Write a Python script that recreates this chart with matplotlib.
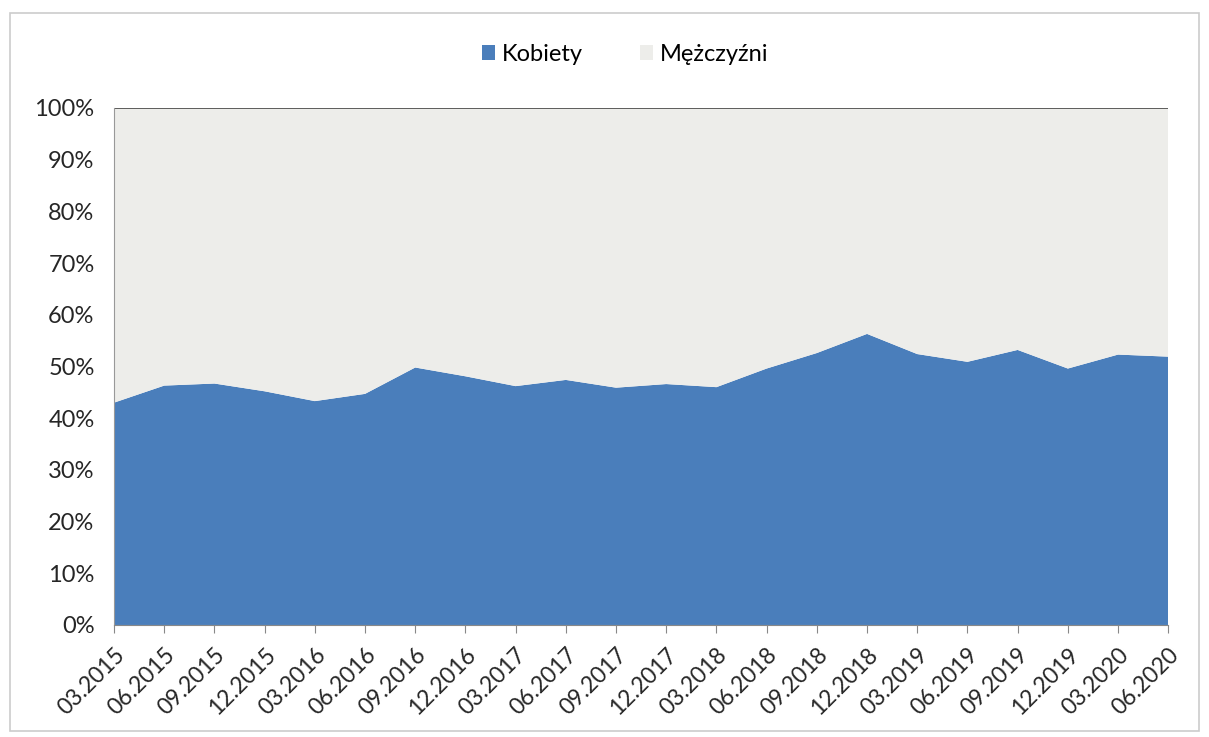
import matplotlib
matplotlib.use("Agg")
import matplotlib.pyplot as plt
from matplotlib.patches import Rectangle
from matplotlib.ticker import PercentFormatter

quarters = ['03.2015', '06.2015', '09.2015', '12.2015', '03.2016', '06.2016',
            '09.2016', '12.2016', '03.2017', '06.2017', '09.2017', '12.2017',
            '03.2018', '06.2018', '09.2018', '12.2018', '03.2019', '06.2019',
            '09.2019', '12.2019', '03.2020', '06.2020']
kobiety = [43.0, 46.3, 46.7, 45.2, 43.3, 44.7, 49.8, 48.1, 46.2, 47.4, 45.9,
           46.6, 46.0, 49.6, 52.6, 56.3, 52.4, 50.9, 53.2, 49.6, 52.3, 51.9]
mezczyzni = [100 - k for k in kobiety]

blue = '#4a7ebb'
grey = '#ededea'

plt.rcParams['font.family'] = ['Lato', 'DejaVu Sans']

fig = plt.figure(figsize=(12.09, 7.37), dpi=100)
ax = fig.add_axes([0.0943, 0.152, 0.872, 0.7015])

x = list(range(len(quarters)))
ax.stackplot(x, kobiety, mezczyzni, colors=[blue, grey],
             labels=['Kobiety', 'Mężczyźni'])

ax.set_xlim(0, len(quarters) - 1)
ax.set_ylim(0, 100)
ax.set_yticks(range(0, 101, 10))
ax.yaxis.set_major_formatter(PercentFormatter(decimals=0))
ax.set_xticks(x)
ax.set_xticklabels(quarters, rotation=45, ha='right', rotation_mode='anchor')

ax.tick_params(axis='y', length=0, labelsize=17, colors='#262626', pad=14)
ax.tick_params(axis='x', length=6, direction='out', color='#888888',
               labelsize=16.5, labelcolor='#262626', pad=8)

for side in ['top', 'right']:
    ax.spines[side].set_visible(False)
ax.spines['left'].set_color('#999999')
ax.spines['bottom'].set_color('#888888')
ax.axhline(100, color='#444444', lw=1.2)

ax.legend(loc='upper center', bbox_to_anchor=(0.485, 1.165), ncol=2,
          frameon=False, fontsize=17, handlelength=0.55, handleheight=0.55,
          columnspacing=2.4, handletextpad=0.3)

fig.patches.append(Rectangle((0.008, 0.008), 0.984, 0.975,
                             transform=fig.transFigure, fill=False,
                             edgecolor='#cccccc', lw=1.2))

fig.savefig('out.png', dpi=100)
